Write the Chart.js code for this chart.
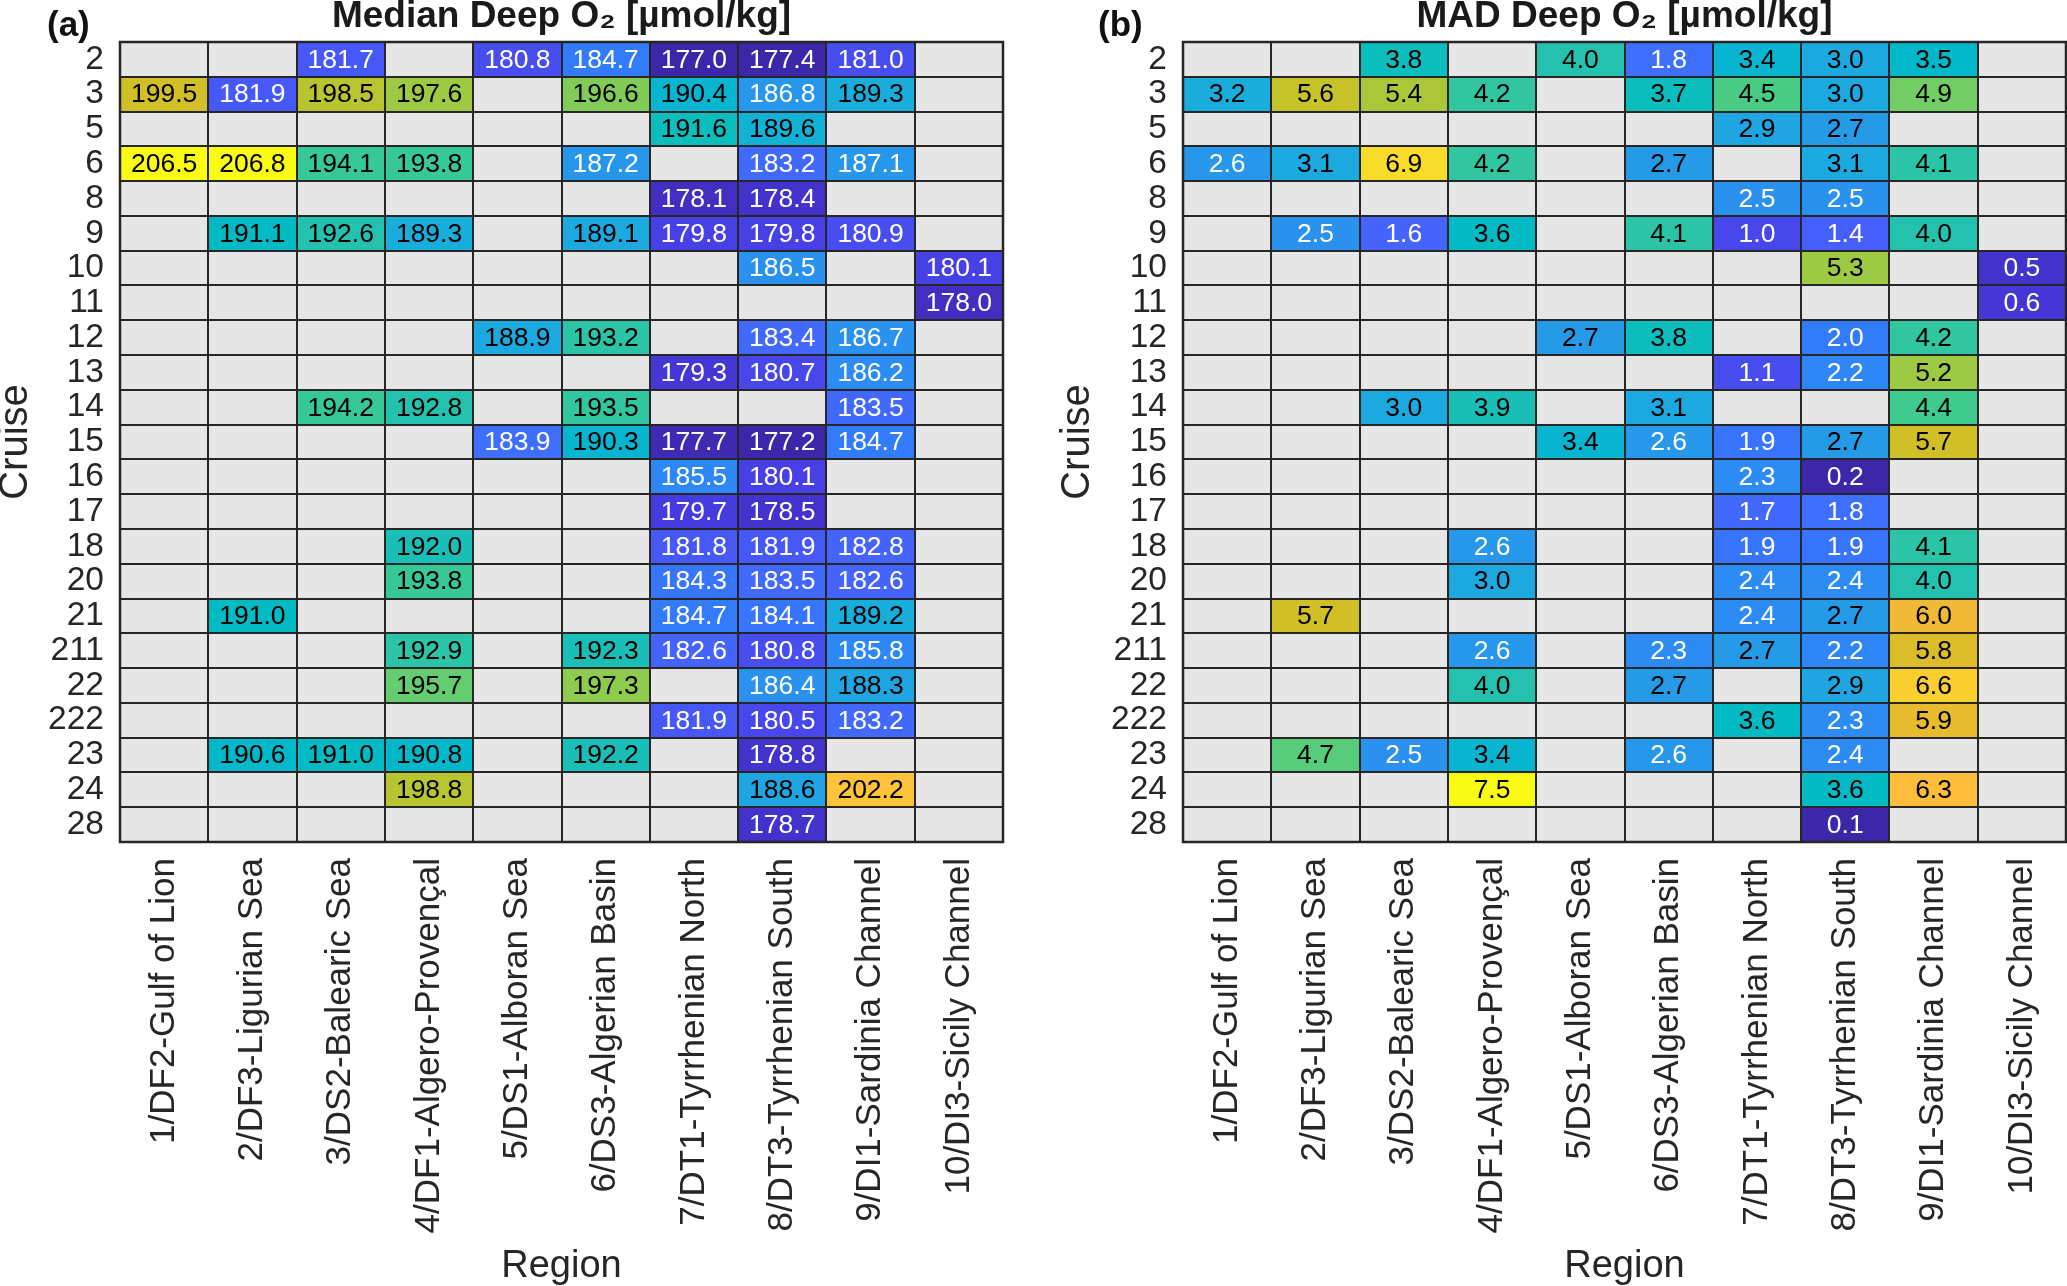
<!DOCTYPE html>
<html><head><meta charset="utf-8">
<script src="https://cdn.jsdelivr.net/npm/chart.js@4.4.1/dist/chart.umd.min.js"></script>
<style>
html,body{margin:0;padding:0;background:#fff;overflow:hidden;width:2067px;height:1286px;}
#wa{position:absolute;left:0;top:0;width:1040px;height:1286px;}
#wb{position:absolute;left:1040px;top:0;width:1050px;height:1286px;}
</style></head><body>
<div id="wa"><canvas id="ca"></canvas></div>
<div id="wb"><canvas id="cb"></canvas></div>
<script>
const regions = ['1/DF2-Gulf of Lion','2/DF3-Ligurian Sea','3/DS2-Balearic Sea','4/DF1-Algero-Provençal','5/DS1-Alboran Sea','6/DS3-Algerian Basin','7/DT1-Tyrrhenian North','8/DT3-Tyrrhenian South','9/DI1-Sardinia Channel','10/DI3-Sicily Channel'];
const cruises = ['2','3','5','6','8','9','10','11','12','13','14','15','16','17','18','20','21','211','22','222','23','24','28'];

const medianO2 = [
[null,null,181.7,null,180.8,184.7,177.0,177.4,181.0,null],
[199.5,181.9,198.5,197.6,null,196.6,190.4,186.8,189.3,null],
[null,null,null,null,null,null,191.6,189.6,null,null],
[206.5,206.8,194.1,193.8,null,187.2,null,183.2,187.1,null],
[null,null,null,null,null,null,178.1,178.4,null,null],
[null,191.1,192.6,189.3,null,189.1,179.8,179.8,180.9,null],
[null,null,null,null,null,null,null,186.5,null,180.1],
[null,null,null,null,null,null,null,null,null,178.0],
[null,null,null,null,188.9,193.2,null,183.4,186.7,null],
[null,null,null,null,null,null,179.3,180.7,186.2,null],
[null,null,194.2,192.8,null,193.5,null,null,183.5,null],
[null,null,null,null,183.9,190.3,177.7,177.2,184.7,null],
[null,null,null,null,null,null,185.5,180.1,null,null],
[null,null,null,null,null,null,179.7,178.5,null,null],
[null,null,null,192.0,null,null,181.8,181.9,182.8,null],
[null,null,null,193.8,null,null,184.3,183.5,182.6,null],
[null,191.0,null,null,null,null,184.7,184.1,189.2,null],
[null,null,null,192.9,null,192.3,182.6,180.8,185.8,null],
[null,null,null,195.7,null,197.3,null,186.4,188.3,null],
[null,null,null,null,null,null,181.9,180.5,183.2,null],
[null,190.6,191.0,190.8,null,192.2,null,178.8,null,null],
[null,null,null,198.8,null,null,null,188.6,202.2,null],
[null,null,null,null,null,null,null,178.7,null,null]
];

const madO2 = [
[null,null,3.8,null,4.0,1.8,3.4,3.0,3.5,null],
[3.2,5.6,5.4,4.2,null,3.7,4.5,3.0,4.9,null],
[null,null,null,null,null,null,2.9,2.7,null,null],
[2.6,3.1,6.9,4.2,null,2.7,null,3.1,4.1,null],
[null,null,null,null,null,null,2.5,2.5,null,null],
[null,2.5,1.6,3.6,null,4.1,1.0,1.4,4.0,null],
[null,null,null,null,null,null,null,5.3,null,0.5],
[null,null,null,null,null,null,null,null,null,0.6],
[null,null,null,null,2.7,3.8,null,2.0,4.2,null],
[null,null,null,null,null,null,1.1,2.2,5.2,null],
[null,null,3.0,3.9,null,3.1,null,null,4.4,null],
[null,null,null,null,3.4,2.6,1.9,2.7,5.7,null],
[null,null,null,null,null,null,2.3,0.2,null,null],
[null,null,null,null,null,null,1.7,1.8,null,null],
[null,null,null,2.6,null,null,1.9,1.9,4.1,null],
[null,null,null,3.0,null,null,2.4,2.4,4.0,null],
[null,5.7,null,null,null,null,2.4,2.7,6.0,null],
[null,null,null,2.6,null,2.3,2.7,2.2,5.8,null],
[null,null,null,4.0,null,2.7,null,2.9,6.6,null],
[null,null,null,null,null,null,3.6,2.3,5.9,null],
[null,4.7,2.5,3.4,null,2.6,null,2.4,null,null],
[null,null,null,7.5,null,null,null,3.6,6.3,null],
[null,null,null,null,null,null,null,0.1,null,null]
];

// parula colormap (64 entries)
const parula = [
[0.2422,0.1504,0.6603],[0.2504,0.1650,0.7076],[0.2578,0.1818,0.7511],[0.2647,0.1978,0.7952],
[0.2706,0.2147,0.8364],[0.2751,0.2342,0.8710],[0.2783,0.2559,0.8991],[0.2803,0.2782,0.9221],
[0.2813,0.3006,0.9414],[0.2810,0.3228,0.9579],[0.2795,0.3447,0.9717],[0.2760,0.3667,0.9829],
[0.2699,0.3892,0.9906],[0.2602,0.4123,0.9952],[0.2440,0.4358,0.9988],[0.2206,0.4603,0.9973],
[0.1963,0.4847,0.9892],[0.1834,0.5074,0.9798],[0.1786,0.5289,0.9682],[0.1764,0.5499,0.9520],
[0.1687,0.5703,0.9359],[0.1540,0.5902,0.9218],[0.1460,0.6091,0.9079],[0.1380,0.6276,0.8973],
[0.1248,0.6459,0.8883],[0.1113,0.6635,0.8763],[0.0952,0.6798,0.8598],[0.0689,0.6948,0.8394],
[0.0297,0.7082,0.8163],[0.0036,0.7203,0.7917],[0.0067,0.7312,0.7660],[0.0433,0.7411,0.7394],
[0.0964,0.7500,0.7120],[0.1408,0.7584,0.6842],[0.1717,0.7670,0.6554],[0.1938,0.7758,0.6251],
[0.2161,0.7843,0.5923],[0.2470,0.7918,0.5567],[0.2906,0.7973,0.5188],[0.3406,0.8008,0.4789],
[0.3909,0.8029,0.4354],[0.4456,0.8024,0.3909],[0.5044,0.7993,0.3480],[0.5616,0.7942,0.3045],
[0.6174,0.7876,0.2612],[0.6720,0.7793,0.2227],[0.7242,0.7698,0.1910],[0.7738,0.7598,0.1646],
[0.8203,0.7498,0.1535],[0.8634,0.7406,0.1596],[0.9035,0.7330,0.1774],[0.9393,0.7288,0.2100],
[0.9728,0.7298,0.2394],[0.9956,0.7434,0.2371],[0.9970,0.7659,0.2199],[0.9952,0.7893,0.2028],
[0.9892,0.8136,0.1885],[0.9786,0.8386,0.1766],[0.9676,0.8639,0.1643],[0.9610,0.8890,0.1537],
[0.9597,0.9135,0.1423],[0.9628,0.9373,0.1265],[0.9691,0.9606,0.1064],[0.9769,0.9839,0.0805]
];

const FONT = '"Liberation Sans", Arial, Helvetica, sans-serif';
Chart.defaults.font.family = FONT;

function buildPoints(matrix){
  const pts = [];
  cruises.forEach((c,i)=>{ regions.forEach((r,j)=>{ pts.push({x:r, y:c, v:matrix[i][j]}); }); });
  return pts;
}

const heatPlugin = {
  id: 'heat',
  afterDatasetsDraw(chart, args, opts){
    const {ctx, chartArea:ca, scales:{x, y}} = chart;
    const ds = chart.data.datasets[0];
    const meta = chart.getDatasetMeta(0);
    const vals = ds.data.map(d=>d.v).filter(v=>v!==null);
    const vmin = Math.min(...vals), vmax = Math.max(...vals);
    const cw = Math.abs(x.getPixelForValue(1) - x.getPixelForValue(0));
    const ch = Math.abs(y.getPixelForValue(1) - y.getPixelForValue(0));
    ctx.save();
    ctx.font = '26.5px ' + FONT;
    ctx.textAlign = 'center';
    ctx.textBaseline = 'middle';
    meta.data.forEach((el, k)=>{
      const d = ds.data[k];
      const x0 = Math.round(el.x - cw/2), x1 = Math.round(el.x + cw/2);
      const y0 = Math.round(el.y - ch/2), y1 = Math.round(el.y + ch/2);
      if (d.v === null){
        ctx.fillStyle = '#e6e6e6';
        ctx.fillRect(x0, y0, x1-x0, y1-y0);
        return;
      }
      let t = (d.v - vmin)/(vmax - vmin);
      let idx = Math.floor(t*64); if (idx > 63) idx = 63; if (idx < 0) idx = 0;
      const c = parula[idx];
      ctx.fillStyle = 'rgb(' + Math.round(c[0]*255) + ',' + Math.round(c[1]*255) + ',' + Math.round(c[2]*255) + ')';
      ctx.fillRect(x0, y0, x1-x0, y1-y0);
      const lum = 0.2989*c[0] + 0.5870*c[1] + 0.1140*c[2];
      ctx.fillStyle = lum > 0.5 ? '#000000' : '#ffffff';
      ctx.fillText(d.v.toFixed(1), el.x, el.y + 1);
    });
    // grid lines
    ctx.strokeStyle = '#262626';
    ctx.lineWidth = 2;
    ctx.beginPath();
    for (let j = 0; j <= regions.length; j++){
      const px = Math.round(x.getPixelForValue(j - 0.5));
      ctx.moveTo(px, Math.round(ca.top)); ctx.lineTo(px, Math.round(ca.bottom));
    }
    for (let i = 0; i <= cruises.length; i++){
      const py = Math.round(y.getPixelForValue(i - 0.5));
      ctx.moveTo(Math.round(ca.left), py); ctx.lineTo(Math.round(ca.right), py);
    }
    ctx.stroke();
    ctx.lineWidth = 2.5;
    ctx.strokeRect(Math.round(ca.left), Math.round(ca.top), Math.round(ca.right)-Math.round(ca.left), Math.round(ca.bottom)-Math.round(ca.top));
    // panel label
    ctx.font = 'bold 35px ' + FONT;
    ctx.fillStyle = '#111111';
    ctx.textAlign = 'left';
    ctx.textBaseline = 'alphabetic';
    ctx.fillText(opts.label, opts.labelX, 36);
    ctx.restore();
  }
};

function makeChart(id, matrix, titleText, label, labelX, yWidth, cruisePad){
  return new Chart(document.getElementById(id), {
    type: 'scatter',
    data: { datasets: [{ data: buildPoints(matrix), pointRadius: 0, pointHoverRadius: 0 }] },
    options: {
      responsive: true, maintainAspectRatio: false, animation: false, events: [],
      layout: { padding: { left: 0, right: (id === 'ca' ? 37 : 24), top: 0, bottom: 0 } },
      plugins: {
        legend: { display: false }, tooltip: { enabled: false },
        title: { display: true, text: titleText, fullSize: false, align: 'center', color: '#1a1a1a',
                 font: { size: 37, weight: 'bold', lineHeight: 0.9 }, padding: { top: 0, bottom: 8.7 } },
        heat: { label: label, labelX: labelX }
      },
      scales: {
        x: { type: 'category', labels: regions, offset: true, position: 'bottom',
             grid: { display: false, drawTicks: false }, border: { display: false },
             ticks: { autoSkip: false, maxRotation: 90, minRotation: 90, padding: 16, color: '#262626', font: { size: 35 } },
             title: { display: true, text: 'Region', color: '#262626', font: { size: 38, lineHeight: 1 }, padding: { top: 0, bottom: 0 } },
             afterFit: s => { s.height = 444; } },
        y: { type: 'category', labels: cruises, offset: true, position: 'left',
             grid: { display: false, drawTicks: false }, border: { display: false },
             ticks: { autoSkip: false, padding: 16, color: '#262626', font: { size: 33.5, lineHeight: 1 } },
             title: { display: true, text: 'Cruise', color: '#262626', font: { size: 40, lineHeight: 0.8 }, padding: { top: cruisePad, bottom: 0 } },
             afterFit: s => { s.width = yWidth; } }
      }
    },
    plugins: [heatPlugin]
  });
}

makeChart('ca', medianO2, 'Median Deep O₂ [µmol/kg]', '(a)', 47, 120, 0);
makeChart('cb', madO2, 'MAD Deep O₂ [µmol/kg]', '(b)', 58, 143, 22);
</script>
</body></html>
